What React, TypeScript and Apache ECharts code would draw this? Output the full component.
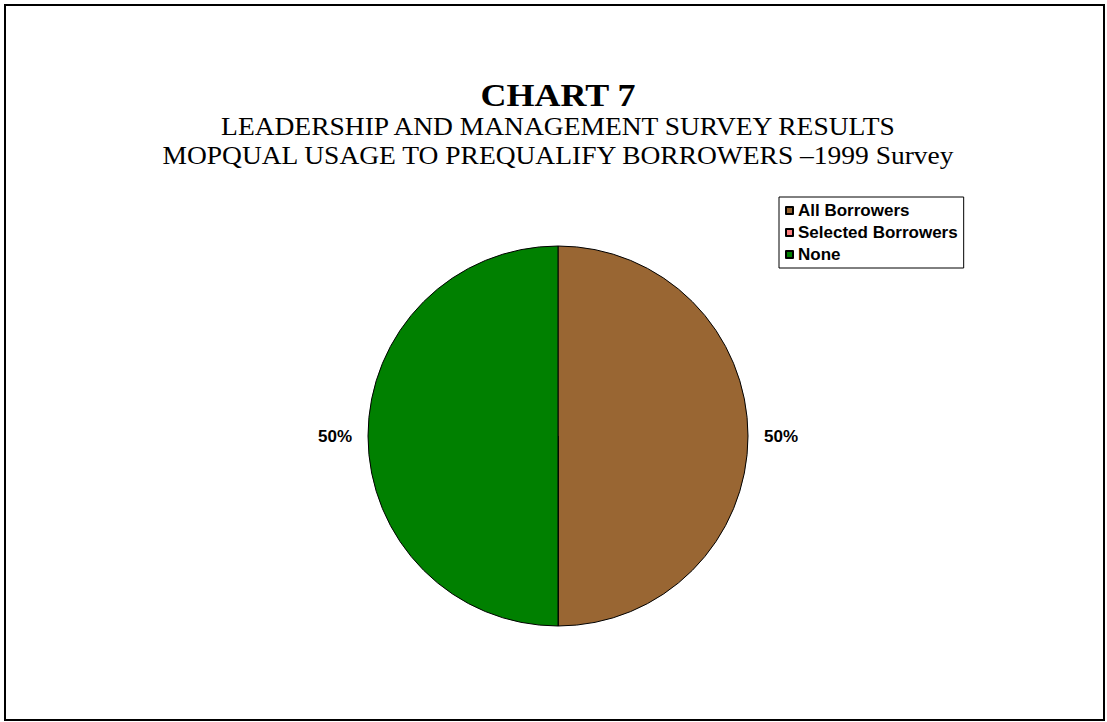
import React, { useEffect, useRef } from "react";
import * as echarts from "echarts";

const titleMain = "CHART 7";
const titleLine2 = "LEADERSHIP AND MANAGEMENT SURVEY RESULTS";
const titleLine3 = "MOPQUAL USAGE TO PREQUALIFY BORROWERS \u20131999 Survey";

const categories = ["All Borrowers", "Selected Borrowers", "None"];
const values = [50, 0, 50];
const colors = ["#996633", "#FF8080", "#008000"];

export default function App() {
  const ref = useRef<HTMLDivElement>(null);
  useEffect(() => {
    if (!ref.current) return;
    const chart = echarts.init(ref.current, null, { renderer: "svg" });
    const data = categories.map((name, i) => ({
      name,
      value: values[i],
      itemStyle: { color: colors[i] },
      label: { show: values[i] > 0 },
    }));
    const serif = "'Liberation Serif', 'Times New Roman', serif";
    const titleText = (text: string, y: number, font: string, sx: number) => ({
      type: "text",
      x: 558,
      y,
      scaleX: sx,
      style: {
        text,
        font,
        fill: "#000",
        align: "center",
        verticalAlign: "middle",
      },
    });
    chart.setOption({
      animation: false,
      backgroundColor: "#ffffff",
      graphic: [
        {
          type: "rect",
          shape: { x: 5, y: 5, width: 1099, height: 715 },
          style: { fill: "none", stroke: "#000", lineWidth: 2 },
          silent: true,
        },
        titleText(titleMain, 95, `bold 32px ${serif}`, 1.125),
        titleText(titleLine2, 127, `25px ${serif}`, 1.1),
        titleText(titleLine3, 155.5, `25px ${serif}`, 1.1),
      ],
      legend: {
        orient: "vertical",
        left: 779,
        top: 197,
        data: categories,
        icon: "rect",
        itemWidth: 7,
        itemHeight: 7,
        itemGap: 5,
        padding: [5, 6, 5, 6],
        borderColor: "#000",
        borderWidth: 1,
        selectedMode: false,
        textStyle: {
          fontFamily: "'Liberation Sans', Arial, sans-serif",
          fontWeight: "bold",
          fontSize: 17,
          color: "#000",
        },
      },
      series: [
        {
          type: "pie",
          center: [558, 436],
          radius: 190,
          startAngle: 90,
          clockwise: true,
          stillShowZeroSum: true,
          data,
          itemStyle: { borderColor: "#000", borderWidth: 1 },
          label: {
            position: "outside",
            formatter: "{d}%",
            fontFamily: "'Liberation Sans', Arial, sans-serif",
            fontWeight: "bold",
            fontSize: 17,
            color: "#000",
          },
          labelLine: { show: false, length: 6, length2: 5 },
          emphasis: { disabled: true },
        },
      ],
    });
    return () => chart.dispose();
  }, []);
  return (
    <div
      ref={ref}
      style={{ position: "absolute", left: 0, top: 0, width: 1107, height: 722 }}
    />
  );
}
